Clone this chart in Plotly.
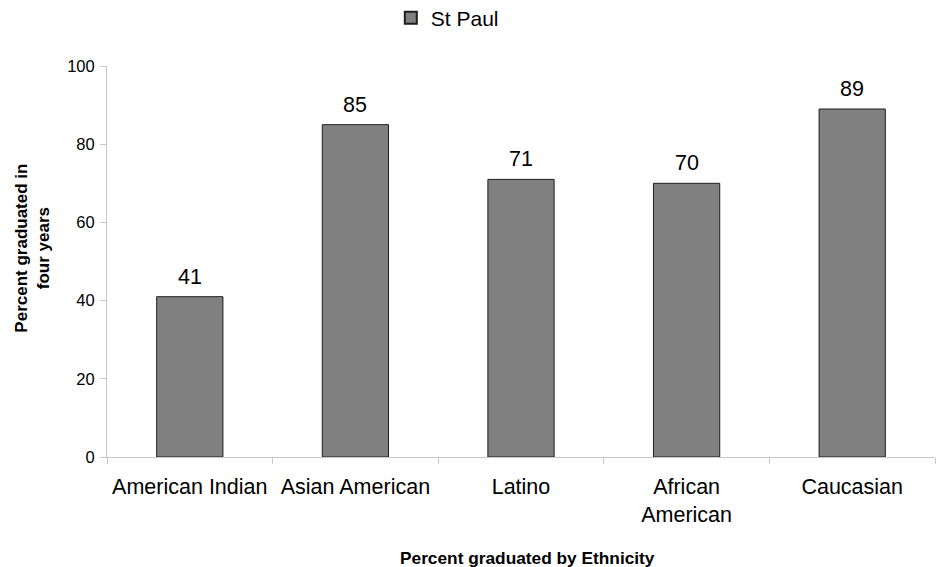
import plotly.graph_objects as go

categories = ["American Indian", "Asian American", "Latino", "African<br>American", "Caucasian"]
values = [41, 85, 71, 70, 89]
series_name = "St Paul"
y_ticks = [0, 20, 40, 60, 80, 100]

FONT = "Liberation Sans, Arial, sans-serif"
AXIS_GRAY = "#c8c8c8"

fig = go.Figure(
    go.Bar(
        x=categories,
        y=values,
        name=series_name,
        width=0.4,
        marker=dict(color="#808080", line=dict(color="#1e1e1e", width=1)),
        showlegend=True,
    )
)

# value labels above each bar
value_labels = [
    dict(
        x=c, y=v, xref="x", yref="y",
        text=str(v),
        showarrow=False,
        yanchor="bottom",
        yshift=6,
        font=dict(family=FONT, size=21.5, color="#000000"),
    )
    for c, v in zip(categories, values)
]

fig.update_layout(
    width=943,
    height=567,
    margin=dict(l=107, r=8, t=66, b=110),
    paper_bgcolor="white",
    plot_bgcolor="white",
    font=dict(family=FONT, color="#000000"),
    showlegend=True,
    legend=dict(
        orientation="h",
        x=0.411,
        xanchor="center",
        yref="container",
        y=1 - 18 / 567,
        yanchor="middle",
        font=dict(family=FONT, size=21),
        itemsizing="constant",
        itemwidth=30,
    ),
    xaxis=dict(
        type="category",
        showline=True,
        linecolor=AXIS_GRAY,
        linewidth=1,
        ticks="outside",
        tickson="boundaries",
        ticklen=6,
        tickcolor=AXIS_GRAY,
        ticklabelstandoff=10,
        tickfont=dict(family=FONT, size=21.5, color="#000000"),
        showgrid=False,
    ),
    yaxis=dict(
        range=[0, 100],
        tickvals=y_ticks,
        showline=True,
        linecolor=AXIS_GRAY,
        linewidth=1,
        ticks="outside",
        ticklen=6,
        tickcolor=AXIS_GRAY,
        ticklabelstandoff=2,
        tickfont=dict(family=FONT, size=16.5, color="#000000"),
        showgrid=False,
        zeroline=False,
    ),
    annotations=value_labels + [
        dict(
            text="<b>Percent graduated by Ethnicity</b>",
            x=0.508, xref="paper", xanchor="center",
            y=-(558 - 457) / 391, yref="paper", yanchor="middle",
            showarrow=False,
            font=dict(family=FONT, size=17.3),
        ),
        dict(
            text="<b>Percent graduated in<br>four years</b>",
            x=-0.091, xref="paper", xanchor="center",
            y=(457 - 248) / 391, yref="paper", yanchor="middle",
            textangle=-90,
            showarrow=False,
            font=dict(family=FONT, size=17),
        ),
    ],
)

fig.write_html("out.html")
